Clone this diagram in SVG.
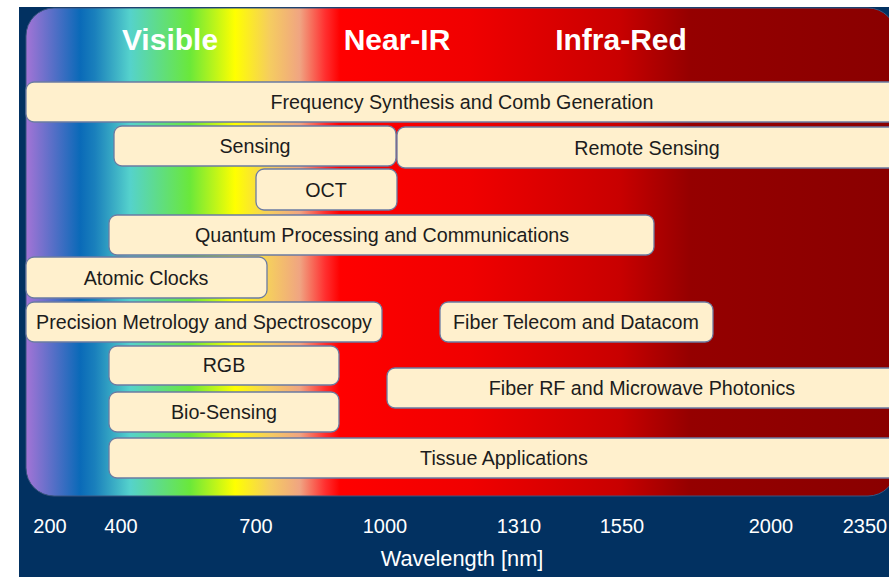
<svg xmlns="http://www.w3.org/2000/svg" width="889" height="577" viewBox="0 0 889 577">
  <style>
    .band { fill: #fff0cd; stroke: #6b7ba2; stroke-width: 1.3; }
    .lbl { font-family: "Liberation Sans", Arial, sans-serif; font-size: 19.7px; fill: #1c1c1c; text-anchor: middle; }
    .hdr { font-family: "Liberation Sans", Arial, sans-serif; font-size: 30px; font-weight: bold; fill: #ffffff; text-anchor: middle; }
    .axis { font-family: "Liberation Sans", Arial, sans-serif; font-size: 20px; fill: #ffffff; text-anchor: middle; }
    .axis-title { font-family: "Liberation Sans", Arial, sans-serif; font-size: 21.8px; fill: #ffffff; text-anchor: middle; }
  </style>
  <defs>
    <linearGradient id="spectrum" gradientUnits="userSpaceOnUse" x1="26" y1="0" x2="889" y2="0">
      <stop offset="0" stop-color="#a474d6"/>
      <stop offset="0.0626" stop-color="#0a6ab8"/>
      <stop offset="0.0800" stop-color="#1a80bc"/>
      <stop offset="0.1205" stop-color="#55d2cc"/>
      <stop offset="0.1900" stop-color="#6ae83a"/>
      <stop offset="0.2422" stop-color="#ffff00"/>
      <stop offset="0.2827" stop-color="#f5cc60"/>
      <stop offset="0.3175" stop-color="#f0a482"/>
      <stop offset="0.3465" stop-color="#ff3030"/>
      <stop offset="0.3639" stop-color="#ff0000"/>
      <stop offset="0.5145" stop-color="#f00000"/>
      <stop offset="0.6883" stop-color="#c80000"/>
      <stop offset="0.7694" stop-color="#950000"/>
      <stop offset="1" stop-color="#8a0000"/>
    </linearGradient>
  </defs>

  <!-- page and navy panel -->
  <rect x="0" y="0" width="889" height="577" fill="#ffffff"/>
  <rect x="19" y="7" width="870" height="570" fill="#023161"/>

  <!-- wavelength spectrum -->
  <rect x="26" y="8" width="870" height="488" rx="28" ry="28" fill="url(#spectrum)" stroke="#3a5580" stroke-width="1"/>

  <!-- band headers -->
  <text class="hdr" x="170" y="50">Visible</text>
  <text class="hdr" x="397" y="50">Near-IR</text>
  <text class="hdr" x="621" y="50">Infra-Red</text>

  <!-- application bands -->
  <g id="freq-synthesis">
    <rect class="band" x="26" y="82" width="880" height="40" rx="8"/>
    <text class="lbl" x="462" y="109">Frequency Synthesis and Comb Generation</text>
  </g>
  <g id="sensing">
    <rect class="band" x="114" y="126" width="282" height="40" rx="8"/>
    <text class="lbl" x="255" y="153">Sensing</text>
  </g>
  <g id="remote-sensing">
    <rect class="band" x="397" y="127" width="510" height="41" rx="8"/>
    <text class="lbl" x="647" y="155">Remote Sensing</text>
  </g>
  <g id="oct">
    <rect class="band" x="256" y="169" width="141" height="41" rx="8"/>
    <text class="lbl" x="326" y="197">OCT</text>
  </g>
  <g id="quantum">
    <rect class="band" x="109" y="215" width="545" height="40" rx="8"/>
    <text class="lbl" x="382" y="242">Quantum Processing and Communications</text>
  </g>
  <g id="atomic-clocks">
    <rect class="band" x="26" y="257" width="241" height="41" rx="8"/>
    <text class="lbl" x="146" y="285">Atomic Clocks</text>
  </g>
  <g id="precision-metrology">
    <rect class="band" x="26" y="302" width="356" height="40" rx="8"/>
    <text class="lbl" x="204" y="329">Precision Metrology and Spectroscopy</text>
  </g>
  <g id="fiber-telecom">
    <rect class="band" x="440" y="302" width="273" height="40" rx="8"/>
    <text class="lbl" x="576" y="329">Fiber Telecom and Datacom</text>
  </g>
  <g id="rgb">
    <rect class="band" x="109" y="346" width="230" height="39" rx="8"/>
    <text class="lbl" x="224" y="372">RGB</text>
  </g>
  <g id="fiber-rf">
    <rect class="band" x="387" y="368" width="520" height="40" rx="8"/>
    <text class="lbl" x="642" y="395">Fiber RF and Microwave Photonics</text>
  </g>
  <g id="bio-sensing">
    <rect class="band" x="109" y="392" width="230" height="40" rx="8"/>
    <text class="lbl" x="224" y="419">Bio-Sensing</text>
  </g>
  <g id="tissue">
    <rect class="band" x="109" y="438" width="798" height="40" rx="8"/>
    <text class="lbl" x="504" y="465">Tissue Applications</text>
  </g>

  <g id="connectors"/>

  <!-- wavelength axis -->
  <g id="axis">
    <text class="axis" x="50" y="533">200</text>
    <text class="axis" x="121" y="533">400</text>
    <text class="axis" x="256" y="533">700</text>
    <text class="axis" x="385" y="533">1000</text>
    <text class="axis" x="519" y="533">1310</text>
    <text class="axis" x="622" y="533">1550</text>
    <text class="axis" x="771" y="533">2000</text>
    <text class="axis" x="865" y="533">2350</text>
    <text class="axis-title" x="462" y="566">Wavelength [nm]</text>
  </g>
</svg>
